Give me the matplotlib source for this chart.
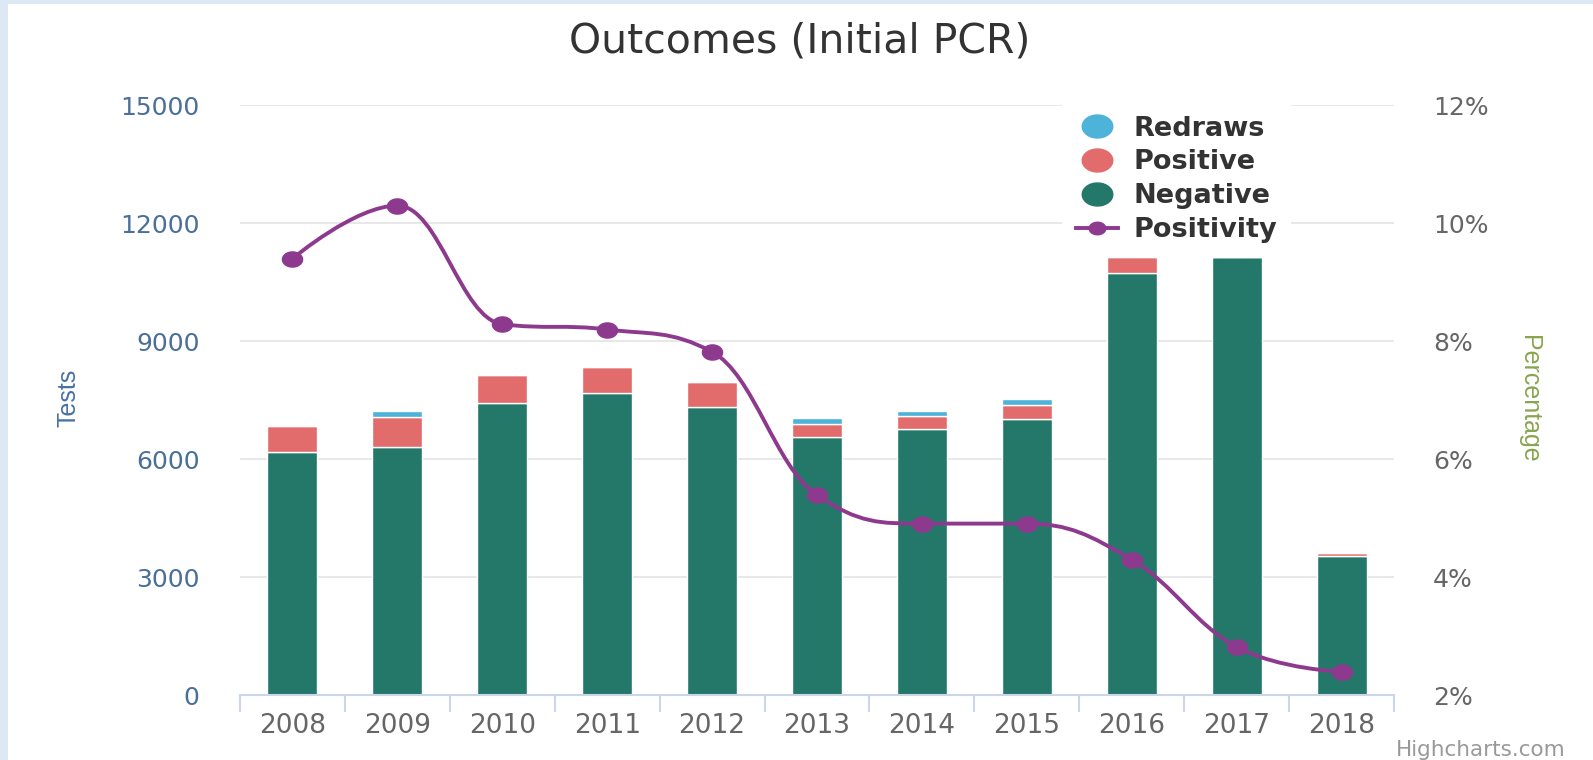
import numpy as np
import matplotlib
matplotlib.use("Agg")
import matplotlib.pyplot as plt
from matplotlib.path import Path
from matplotlib.patches import PathPatch, Rectangle
from matplotlib.lines import Line2D

years = ["2008", "2009", "2010", "2011", "2012", "2013", "2014", "2015", "2016", "2017", "2018"]
negative = [6180, 6320, 7440, 7680, 7340, 6560, 6760, 7015, 10730, 11150, 3536]
positive = [668, 765, 712, 662, 628, 340, 330, 365, 422, 0, 86]
redraws = [0, 152, 0, 0, 0, 145, 135, 145, 0, 0, 0]
positivity = [9.40, 10.30, 8.29, 8.20, 7.82, 5.39, 4.91, 4.91, 4.30, 2.82, 2.40]

C_NEG = "#24786a"
C_POS = "#e26b6b"
C_RED = "#4db3d9"
C_LINE = "#8d3a8e"

W, H = 1593, 760


def highcharts_spline(xs, ys, smoothing=1.5):
    # same control point rule as the Highcharts spline series
    verts = [(xs[0], ys[0])]
    codes = [Path.MOVETO]
    prev_right = (xs[0], ys[0])
    n = len(xs)
    d = smoothing + 1
    for i in range(1, n):
        px, py = xs[i], ys[i]
        if i < n - 1:
            lx, ly = xs[i - 1], ys[i - 1]
            nx, ny = xs[i + 1], ys[i + 1]
            lcx = (smoothing * px + lx) / d
            lcy = (smoothing * py + ly) / d
            rcx = (smoothing * px + nx) / d
            rcy = (smoothing * py + ny) / d
            corr = ((rcy - lcy) * (rcx - px)) / (rcx - lcx) + py - rcy
            lcy += corr
            rcy += corr
            if lcy > ly and lcy > py:
                lcy = max(ly, py); rcy = 2 * py - lcy
            elif lcy < ly and lcy < py:
                lcy = min(ly, py); rcy = 2 * py - lcy
            if rcy > ny and rcy > py:
                rcy = max(ny, py); lcy = 2 * py - rcy
            elif rcy < ny and rcy < py:
                rcy = min(ny, py); lcy = 2 * py - rcy
            left, right = (lcx, lcy), (rcx, rcy)
        else:
            left, right = (px, py), None
        verts += [prev_right, left, (px, py)]
        codes += [Path.CURVE4] * 3
        prev_right = right
    return Path(verts, codes)


# slightly wide ellipse, the screenshot is stretched sideways
t = np.linspace(0, 2 * np.pi, 64)
ellipse = Path(np.c_[1.33 * np.cos(t), np.sin(t)], closed=True)

fig = plt.figure(figsize=(W / 100, H / 100), dpi=100)
fig.patch.set_facecolor("#dce9f5")
fig.add_artist(Rectangle((8 / W, 0), 1, 1 - 4 / H, transform=fig.transFigure,
                         facecolor="white", edgecolor="none", zorder=-5))

ax = fig.add_axes([240 / W, 1 - 695.3 / H, (1394 - 240) / W, 590 / H])
ax.patch.set_alpha(0)
x = np.arange(len(years))
bw = 0.476

ax.bar(x, negative, bw, color=C_NEG, edgecolor="white", linewidth=1, zorder=2)
ax.bar(x, positive, bw, bottom=negative, color=C_POS, edgecolor="white", linewidth=1, zorder=2)
bottom2 = np.array(negative) + np.array(positive)
ax.bar(x, redraws, bw, bottom=bottom2, color=C_RED, edgecolor="white", linewidth=1, zorder=2)

ax.set_xlim(-0.5, len(years) - 0.5)
ax.set_ylim(0, 15000)
ax.set_yticks(np.arange(0, 15001, 3000))
ax.set_yticklabels([str(v) for v in range(0, 15001, 3000)])
ax.grid(axis="y", color="#e6e6e6", linewidth=1.3)
ax.set_axisbelow(True)
for s in ["top", "left", "right"]:
    ax.spines[s].set_visible(False)
ax.spines["bottom"].set_color("#ccd6eb")
ax.spines["bottom"].set_linewidth(1.5)
ax.tick_params(axis="y", length=0, pad=29, labelsize=18, labelcolor="#4a6f9a")
ax.set_xticks(x)
ax.set_xticklabels(years)
ax.set_xticks(np.arange(-0.5, len(years)), minor=True)
ax.tick_params(axis="x", which="major", length=0, pad=13, labelsize=19, labelcolor="#666666")
ax.tick_params(axis="x", which="minor", length=12.5, width=1.5, color="#ccd6eb")

ax2 = ax.twinx()
ax2.set_ylim(2, 12)
ax2.set_yticks(np.arange(2, 13, 2))
ax2.set_yticklabels([f"{v}%" for v in range(2, 13, 2)])
ax2.tick_params(axis="y", length=0, pad=28, labelsize=18, labelcolor="#666666")
for s in ax2.spines.values():
    s.set_visible(False)

spl = highcharts_spline(x.astype(float), positivity)
ax2.add_patch(PathPatch(spl, facecolor="none", edgecolor=C_LINE, linewidth=2.8, zorder=3))
ax2.plot(x, positivity, ls="none", marker=ellipse, markersize=14.5, color=C_LINE, zorder=4)

handles = [
    Line2D([], [], ls="none", marker=ellipse, markersize=22, color=C_RED),
    Line2D([], [], ls="none", marker=ellipse, markersize=22, color=C_POS),
    Line2D([], [], ls="none", marker=ellipse, markersize=22, color=C_NEG),
    Line2D([], [], color=C_LINE, lw=2.8, marker=ellipse, markersize=12),
]
leg = ax2.legend(handles, ["Redraws", "Positive", "Negative", "Positivity"],
                 loc="upper left", bbox_to_anchor=(1062 / W, 1 - 102 / H),
                 bbox_transform=fig.transFigure, frameon=True, fancybox=False,
                 framealpha=1, edgecolor="none", facecolor="white",
                 prop={"size": 19.5, "weight": "bold"}, labelcolor="#333333",
                 handlelength=1.55, handletextpad=0.6, labelspacing=0.29,
                 borderpad=0.5, borderaxespad=0)
leg.set_zorder(10)

fig.text(800 / W, 1 - 52 / H, "Outcomes (Initial PCR)", ha="center", va="baseline",
         fontsize=29.5, color="#333333")
fig.text(68 / W, 1 - 398 / H, "Tests", rotation=90, ha="center", va="center",
         fontsize=18, color="#4572a7", family="Liberation Sans")
fig.text(1529 / W, 1 - 399 / H, "Percentage", rotation=270, ha="center", va="center",
         fontsize=18, color="#89a54e", family="Liberation Sans")
fig.text(1566 / W, 1 - 756 / H, "Highcharts.com", ha="right", va="baseline",
         fontsize=15.5, color="#999999")

fig.savefig("out.png", dpi=100, facecolor=fig.get_facecolor())
